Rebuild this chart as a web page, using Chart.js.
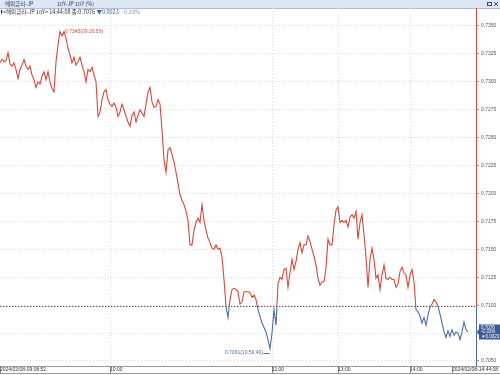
<!DOCTYPE html>
<html>
<head>
<meta charset="utf-8">
<script src="https://cdn.jsdelivr.net/npm/chart.js@4.4.1/dist/chart.umd.min.js"></script>
<style>
  html, body { margin: 0; padding: 0; background: #fff; }
  #wrap { width: 500px; height: 375px; }
</style>
</head>
<body>
<div id="wrap"><canvas id="chart" width="500" height="375"></canvas></div>
<script>
// 10Y JP yield, 2024/02/08 09:06:52 - 14:44:08
const yields = [
  0.7317, 0.7320, 0.7318, 0.7319, 0.7326, 0.7316, 0.7314, 0.7317, 0.7311, 0.7303, 0.7311, 0.7315, 0.7320, 0.7314, 0.7311, 0.7314, 0.7306, 0.7302, 0.7295, 0.7300,
  0.7298, 0.7305, 0.7309, 0.7302, 0.7309, 0.7300, 0.7294, 0.7291, 0.7318, 0.7333, 0.7345, 0.7341, 0.7345, 0.7339, 0.7330, 0.7324, 0.7317, 0.7322, 0.7315, 0.7318,
  0.7322, 0.7315, 0.7309, 0.7300, 0.7311, 0.7309, 0.7313, 0.7306, 0.7300, 0.7269, 0.7273, 0.7284, 0.7291, 0.7293, 0.7284, 0.7280, 0.7278, 0.7281, 0.7277, 0.7269,
  0.7273, 0.7280, 0.7275, 0.7269, 0.7264, 0.7260, 0.7270, 0.7273, 0.7264, 0.7270, 0.7275, 0.7272, 0.7269, 0.7280, 0.7291, 0.7295, 0.7282, 0.7277, 0.7278, 0.7284,
  0.7280, 0.7257, 0.7230, 0.7219, 0.7239, 0.7241, 0.7235, 0.7228, 0.7219, 0.7209, 0.7199, 0.7194, 0.7190, 0.7184, 0.7176, 0.7154, 0.7154, 0.7167, 0.7174, 0.7178,
  0.7174, 0.7190, 0.7176, 0.7167, 0.7160, 0.7156, 0.7151, 0.7150, 0.7154, 0.7150, 0.7151, 0.7143, 0.7123, 0.7099, 0.7089, 0.7105, 0.7114, 0.7115, 0.7114, 0.7112,
  0.7101, 0.7103, 0.7112, 0.7112, 0.7112, 0.7111, 0.7107, 0.7109, 0.7105, 0.7096, 0.7090, 0.7084, 0.7080, 0.7076, 0.7069, 0.7061, 0.7075, 0.7096, 0.7082, 0.7119,
  0.7125, 0.7123, 0.7132, 0.7133, 0.7116, 0.7129, 0.7141, 0.7132, 0.7139, 0.7150, 0.7156, 0.7147, 0.7154, 0.7154, 0.7162, 0.7157, 0.7150, 0.7144, 0.7136, 0.7124,
  0.7118, 0.7121, 0.7121, 0.7133, 0.7159, 0.7154, 0.7154, 0.7172, 0.7185, 0.7188, 0.7174, 0.7176, 0.7174, 0.7176, 0.7170, 0.7179, 0.7181, 0.7178, 0.7184, 0.7159,
  0.7174, 0.7181, 0.7163, 0.7143, 0.7116, 0.7141, 0.7151, 0.7141, 0.7124, 0.7127, 0.7114, 0.7127, 0.7136, 0.7124, 0.7123, 0.7125, 0.7123, 0.7123, 0.7116, 0.7119,
  0.7130, 0.7134, 0.7129, 0.7127, 0.7116, 0.7127, 0.7132, 0.7121, 0.7096, 0.7094, 0.7090, 0.7084, 0.7089, 0.7082, 0.7091, 0.7098, 0.7101, 0.7105, 0.7103, 0.7099,
  0.7092, 0.7084, 0.7076, 0.7071, 0.7077, 0.7072, 0.7078, 0.7073, 0.7076, 0.7075, 0.7069, 0.7076, 0.7085, 0.7078, 0.7076
];
const prevClose = 0.7099;
const lastPrice = 0.7076;
const changeText = '▼0.0023';
const changePct = '-0.32%';
const highLabel = '0.7345(09:26:59)';
const lowLabel = '0.7061(10:59:40)';

// x axis: position in the series and its label
const timeTickIdx = [0, 55, 136, 169, 205, 226];
const timeTickLabels = ['2024/02/08-09:06:52', '10:00', '11:00', '13:00', '14:00', '2024/02/08-14:44:08'];
const yTicks = [0.7050, 0.7075, 0.7100, 0.7125, 0.7150, 0.7175, 0.7200, 0.7225, 0.7250, 0.7275, 0.7300, 0.7325, 0.7350];

const RED = '#d8473a';
const BLUE = '#4a6ea6';
const FONT = '"Liberation Sans", Arial, sans-serif';
const KFONT = '"Noto Sans CJK KR", "Liberation Sans", sans-serif';

function splitColor(context) {
  const chart = context.chart;
  const area = chart.chartArea;
  if (!area) return RED;
  const g = chart.ctx.createLinearGradient(0, area.top, 0, area.bottom);
  let f = (chart.scales.y.getPixelForValue(prevClose) - area.top) / (area.bottom - area.top);
  f = Math.min(Math.max(f, 0), 1);
  g.addColorStop(0, RED);
  g.addColorStop(f, RED);
  g.addColorStop(f, BLUE);
  g.addColorStop(1, BLUE);
  return g;
}

const decor = {
  id: 'decor',
  beforeDraw(chart) {
    const ctx = chart.ctx;
    ctx.save();
    // title bar
    ctx.fillStyle = '#dde8f4';
    ctx.fillRect(0, 0, 500, 8);
    ctx.strokeStyle = '#a9bfd9';
    ctx.lineWidth = 1;
    ctx.beginPath(); ctx.moveTo(0, 8.5); ctx.lineTo(500, 8.5); ctx.stroke();
    ctx.font = '5.5px ' + KFONT;
    ctx.fillStyle = '#243a5e';
    ctx.textBaseline = 'middle';
    ctx.fillText('해외금리-JP', 5, 4.3);
    ctx.fillText('10Y-JP 10Y (%)', 57, 4.3);
    // window icons
    ctx.strokeStyle = '#3a4f70';
    ctx.strokeRect(487.5, 2.5, 4, 3);
    ctx.beginPath();
    ctx.moveTo(494, 2); ctx.lineTo(498, 6); ctx.moveTo(498, 2); ctx.lineTo(494, 6);
    ctx.stroke();
    ctx.restore();
  },
  beforeDatasetsDraw(chart) {
    const {ctx, chartArea: a, scales: {y}} = chart;
    const py = Math.round(y.getPixelForValue(prevClose)) + 0.5;
    ctx.save();
    ctx.strokeStyle = '#7a4a4a';
    ctx.lineWidth = 1;
    ctx.setLineDash([1.5, 1.5]);
    ctx.beginPath(); ctx.moveTo(a.left, py); ctx.lineTo(a.right, py); ctx.stroke();
    ctx.restore();
  },
  afterDatasetsDraw(chart) {
    const {ctx, chartArea: a, scales: {x, y}} = chart;
    ctx.save();
    // right axis line, split at previous close
    const py = y.getPixelForValue(prevClose);
    const rx = Math.round(a.right) + 0.5;
    ctx.lineWidth = 1;
    ctx.strokeStyle = RED;
    ctx.beginPath(); ctx.moveTo(rx, a.top); ctx.lineTo(rx, py); ctx.stroke();
    ctx.strokeStyle = BLUE;
    ctx.beginPath(); ctx.moveTo(rx, py); ctx.lineTo(rx, a.bottom); ctx.stroke();
    // bottom axis lines
    ctx.strokeStyle = '#9a9a9a';
    ctx.beginPath();
    ctx.moveTo(0, Math.round(a.bottom) + 0.5); ctx.lineTo(500, Math.round(a.bottom) + 0.5);
    ctx.moveTo(0, 373.5); ctx.lineTo(500, 373.5);
    ctx.stroke();

    // header info row
    ctx.font = '5.5px ' + KFONT;
    ctx.textBaseline = 'middle';
    let tx = 1;
    ctx.fillStyle = '#222';
    ctx.fillRect(tx, 10, 1.2, 3.5);
    tx += 2;
    const s1 = '<해외금리-JP 10Y> 14:44:08 종:' + lastPrice.toFixed(4) + ' ';
    ctx.fillStyle = '#333';
    ctx.fillText(s1, tx, 11.8);
    tx += ctx.measureText(s1).width;
    ctx.fillStyle = '#3b5fa0';
    ctx.fillText(changeText, tx, 11.8);
    tx += ctx.measureText(changeText + '  ').width;
    ctx.fillStyle = '#7f95bb';
    ctx.fillText('- ' + changePct.replace('-', ''), tx, 11.8);

    // high / low marks
    let hi = 0, lo = 0;
    yields.forEach((v, i) => {
      if (v > yields[hi]) hi = i;
      if (v < yields[lo]) lo = i;
    });
    ctx.font = '5px ' + FONT;
    ctx.fillStyle = '#c0584c';
    ctx.textAlign = 'left';
    ctx.fillText(highLabel, x.getPixelForValue(hi) + 5, y.getPixelForValue(yields[hi]) + 0.5);
    const lx = x.getPixelForValue(lo), ly = y.getPixelForValue(yields[lo]) + 4;
    ctx.fillStyle = '#4a6ea6';
    ctx.textAlign = 'right';
    ctx.fillText(lowLabel, lx - 7, ly);
    ctx.strokeStyle = '#4a6ea6';
    ctx.beginPath(); ctx.moveTo(lx - 6.5, Math.round(ly) + 0.5); ctx.lineTo(lx - 0.5, Math.round(ly) + 0.5); ctx.stroke();

    // last price box
    const by = y.getPixelForValue(lastPrice);
    ctx.fillStyle = '#3d5d92';
    ctx.beginPath();
    ctx.moveTo(a.right + 1, by);
    ctx.lineTo(a.right + 3, by - 3);
    ctx.lineTo(a.right + 3, by - 7.5);
    ctx.lineTo(500, by - 7.5);
    ctx.lineTo(500, by + 7.5);
    ctx.lineTo(a.right + 3, by + 7.5);
    ctx.lineTo(a.right + 3, by + 3);
    ctx.closePath();
    ctx.fill();
    ctx.fillStyle = '#ffffff';
    ctx.font = '4.5px ' + FONT;
    ctx.textAlign = 'left';
    ctx.fillText(lastPrice.toFixed(4), a.right + 5, by - 4.5);
    ctx.fillText(changePct, a.right + 5, by);
    ctx.fillText(changeText, a.right + 5, by + 4.5);
    ctx.restore();
  }
};

new Chart(document.getElementById('chart'), {
  type: 'line',
  data: {
    datasets: [{
      data: yields.map((v, i) => ({ x: i, y: v })),
      borderColor: splitColor,
      borderWidth: 1.1,
      pointRadius: 0,
      tension: 0,
      fill: false
    }]
  },
  options: {
    responsive: false,
    animation: false,
    devicePixelRatio: 1,
    layout: { padding: { top: 8, left: 0, right: 0, bottom: 0 } },
    plugins: { legend: { display: false }, tooltip: { enabled: false }, title: { display: false } },
    scales: {
      x: {
        type: 'linear',
        min: 0,
        max: 238,
        afterBuildTicks: s => { s.ticks = timeTickIdx.map(v => ({ value: v })); },
        afterFit: s => { s.height = 9; s.paddingLeft = 0; s.paddingRight = 0; },
        ticks: {
          autoSkip: false,
          maxRotation: 0,
          minRotation: 0,
          align: 'start',
          padding: -6,
          color: '#333',
          font: { family: FONT, size: 5 },
          callback: v => timeTickLabels[timeTickIdx.indexOf(v)]
        },
        grid: {
          color: c => (c.index === 0 || c.index === timeTickIdx.length - 1) ? 'rgba(0,0,0,0)' : '#dadada',
          borderDash: [1, 2],
          tickColor: '#8a8a8a',
          tickBorderDash: [],
          tickLength: 7
        },
        border: { display: false, dash: [1, 2] }
      },
      y: {
        position: 'right',
        min: 0.70455,
        max: 0.73661,
        afterBuildTicks: s => { s.ticks = yTicks.map(v => ({ value: v })); },
        afterFit: s => { s.width = 24; },
        ticks: {
          padding: 2,
          color: '#555',
          font: { family: FONT, size: 5 },
          callback: v => v.toFixed(4)
        },
        grid: {
          color: '#dcdcdc',
          borderDash: [1, 2],
          tickColor: '#9a9a9a',
          tickBorderDash: [],
          tickLength: 3
        },
        border: { display: false, dash: [1, 2] }
      }
    }
  },
  plugins: [decor]
});
</script>
</body>
</html>
